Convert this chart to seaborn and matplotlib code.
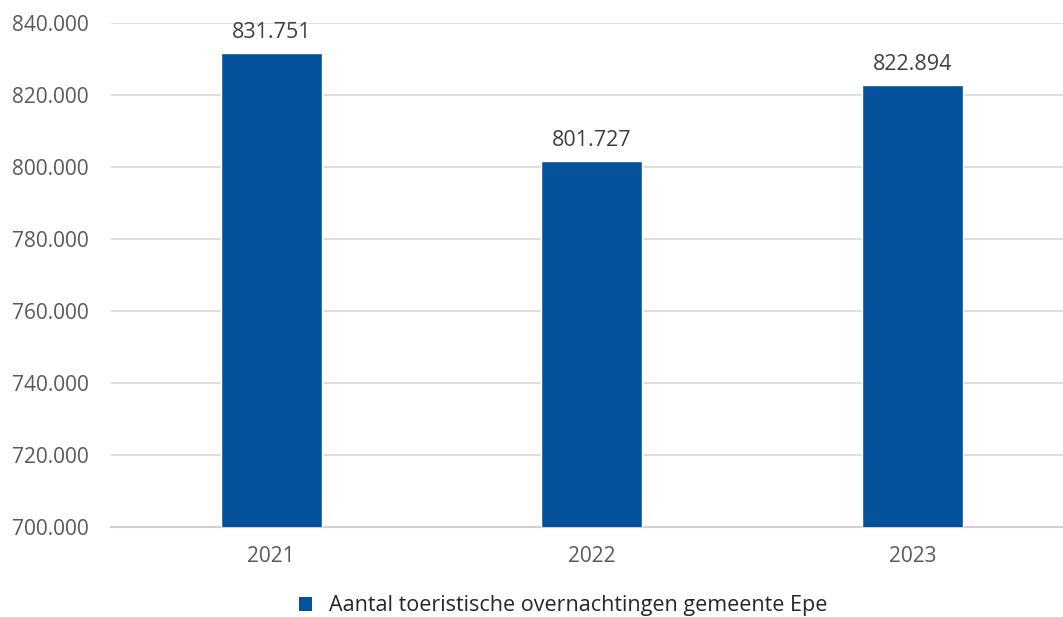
import matplotlib
matplotlib.use("Agg")
import matplotlib.pyplot as plt
import seaborn as sns
import pandas as pd
from matplotlib.ticker import FuncFormatter
from matplotlib.patches import Patch

years = ["2021", "2022", "2023"]
values = [831751, 801727, 822894]
series_name = "Aantal toeristische overnachtingen gemeente Epe"
yticks = [700000, 720000, 740000, 760000, 780000, 800000, 820000, 840000]

sns.set_theme(style="white")
plt.rcParams["font.family"] = ["Open Sans", "DejaVu Sans"]

def nl(v):
    return f"{int(v):,}".replace(",", ".")

df = pd.DataFrame({"jaar": years, "waarde": values})
color = "#03529B"

fig = plt.figure(figsize=(10.63, 6.17), dpi=100)
ax = fig.add_axes([0.1044, 0.1459, 0.8956, 0.8168])
sns.barplot(data=df, x="jaar", y="waarde", color=color, width=0.315, ax=ax,
            saturation=1, zorder=3)
ax.set_ylim(700000, 840000)
ax.set_xlim(-0.5, 2.47)
ax.set_yticks(yticks)
ax.yaxis.set_major_formatter(FuncFormatter(lambda v, p: nl(v)))
ax.grid(axis="y", color="#D9D9D9", linewidth=1.2, zorder=0)
ax.set_axisbelow(True)
for s in ["top", "right", "left"]:
    ax.spines[s].set_visible(False)
ax.spines["bottom"].set_color("#D0D0D0")
ax.spines["bottom"].set_linewidth(1.5)
ax.set_xlabel("")
ax.set_ylabel("")
ax.tick_params(axis="both", length=0, labelsize=15, labelcolor="#595959")
ax.tick_params(axis="y", pad=16)
ax.tick_params(axis="x", pad=14)

for i, v in enumerate(values):
    ax.annotate(nl(v), (i, v), xytext=(0, 7), textcoords="offset points",
                ha="center", va="bottom", fontsize=15.5, color="#404040",
                annotation_clip=False)

handle = Patch(facecolor=color, edgecolor="none")
fig.legend([handle], [series_name], loc="center", bbox_to_anchor=(0.53, 0.018),
           frameon=False, fontsize=15.5, handlelength=0.6, handleheight=0.6,
           handletextpad=0.8, labelcolor="#262626")

fig.savefig("out.png", dpi=100)
